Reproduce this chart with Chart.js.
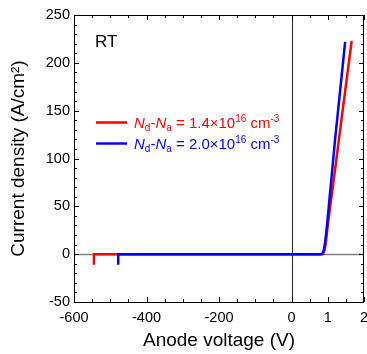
<!DOCTYPE html>
<html>
<head>
<meta charset="utf-8">
<script src="https://cdn.jsdelivr.net/npm/chart.js@4.4.0/dist/chart.umd.min.js"></script>
<style>
  html, body { margin: 0; padding: 0; background: #fff; }
  canvas { display: block; }
</style>
</head>
<body>
<canvas id="ivChart" width="367" height="354"></canvas>
<script>
// Datos (voltaje en V, densidad de corriente en A/cm2)
const redV = [-545, -545, -300, 0, 0.5, 0.82, 0.87, 0.91, 0.95, 1.0, 1.2, 1.4, 1.66];
const redJ = [-11, 0, 0, 0, 0, 0, 0.5, 4, 13, 30, 88, 147, 223];
const blueV = [-478, -478, -300, 0, 0.5, 0.80, 0.85, 0.89, 0.93, 0.98, 1.2, 1.48];
const blueJ = [-11, 0, 0, 0, 0, 0, 0.5, 4, 13, 30, 119, 222];

const xTickLabels = ["-600", "-400", "-200", "0", "1", "2"];
const xTickValues = [-600, -400, -200, 0, 1, 2];
const yTickLabels = ["-50", "0", "50", "100", "150", "200", "250"];

const FONT = "'Liberation Sans', Arial, sans-serif";

// eje partido: lado negativo 100 V por unidad, lado positivo 1 V por unidad
const toAxis = v => (v < 0 ? v / 100 : v);
const toPoints = (xs, ys) => xs.map((v, i) => ({ x: toAxis(v), y: ys[i] }));

const axisTicks = {
	id: "axisTicks",
	beforeDatasetsDraw(chart) {
		const { ctx, chartArea: a, scales } = chart;
		const xs = scales.x, ys = scales.y;
		ctx.save();
		// lineas de cero
		ctx.lineWidth = 1.5;
		ctx.strokeStyle = "#808080";
		const y0 = Math.round(ys.getPixelForValue(0)) + 0.5;
		ctx.beginPath(); ctx.moveTo(a.left, y0); ctx.lineTo(a.right, y0); ctx.stroke();
		ctx.lineWidth = 1;
		ctx.strokeStyle = "#222";
		const x0 = Math.round(xs.getPixelForValue(0)) + 0.5;
		ctx.beginPath(); ctx.moveTo(x0, a.top); ctx.lineTo(x0, a.bottom); ctx.stroke();
		ctx.restore();
	},
	afterDraw(chart) {
		const { ctx, chartArea: a, scales } = chart;
		const xs = scales.x, ys = scales.y;
		ctx.save();
		ctx.strokeStyle = "#000";
		ctx.lineWidth = 1;
		ctx.strokeRect(a.left + 0.5, a.top + 0.5, a.right - a.left - 1, a.bottom - a.top);
		ctx.beginPath();
		const majorX = xTickValues.map(toAxis);
		for (let u = -6; u <= 2.001; u += 0.5) {
			const px = Math.round(xs.getPixelForValue(u)) + 0.5;
			const len = majorX.some(m => Math.abs(m - u) < 1e-6) ? 5 : 3;
			ctx.moveTo(px, a.bottom); ctx.lineTo(px, a.bottom - len);
			ctx.moveTo(px, a.top); ctx.lineTo(px, a.top + len);
		}
		for (let v = -50; v <= 250; v += 10) {
			const py = Math.round(ys.getPixelForValue(v)) + 0.5;
			const len = v % 50 === 0 ? 5 : 3;
			ctx.moveTo(a.left, py); ctx.lineTo(a.left + len, py);
			ctx.moveTo(a.right, py); ctx.lineTo(a.right - len, py);
		}
		ctx.stroke();

		// RT
		ctx.fillStyle = "#000";
		ctx.font = "17px " + FONT;
		ctx.textBaseline = "alphabetic";
		ctx.fillText("RT", 95, 47);

		// leyenda
		const entries = [
			{ color: "#ff0000", value: "1.4", y: 122.5 },
			{ color: "#0000ff", value: "2.0", y: 143.5 }
		];
		entries.forEach(e => {
			ctx.strokeStyle = e.color;
			ctx.lineWidth = 2.5;
			ctx.beginPath(); ctx.moveTo(96, e.y); ctx.lineTo(127, e.y); ctx.stroke();
			ctx.fillStyle = e.color;
			let x = 134;
			const base = e.y + 5.5;
			const part = (text, style, dy) => {
				ctx.font = style;
				ctx.fillText(text, x, base + dy);
				x += ctx.measureText(text).width;
			};
			const main = "15px " + FONT, ital = "italic 15px " + FONT, small = "10px " + FONT;
			part("N", ital, 0);
			part("d", small, 3);
			part("-", main, 0);
			part("N", ital, 0);
			part("a", small, 3);
			part(" = " + e.value + "\u00d710", main, 0);
			part("16", small, -6);
			part(" cm", main, 0);
			part("-3", small, -6);
		});
		ctx.restore();
	}
};

new Chart(document.getElementById("ivChart"), {
	type: "line",
	data: {
		datasets: [
			{
				label: "2.0e16",
				data: toPoints(blueV, blueJ),
				borderColor: "#0000ff",
				borderWidth: 2.5,
				pointRadius: 0,
				order: 0
			},
			{
				label: "1.4e16",
				data: toPoints(redV, redJ),
				borderColor: "#ff0000",
				borderWidth: 2.5,
				pointRadius: 0,
				order: 1
			}
		]
	},
	options: {
		responsive: false,
		animation: false,
		devicePixelRatio: 1,
		layout: { padding: { top: 15, right: 3, left: 0, bottom: 0 } },
		plugins: { legend: { display: false }, tooltip: { enabled: false } },
		scales: {
			x: {
				type: "linear",
				min: -6,
				max: 2,
				afterFit: s => { s.height = 52; s.paddingRight = 0; s.paddingLeft = 0; },
				grid: { display: false, drawTicks: false },
				border: { display: false },
				ticks: {
					stepSize: 0.5,
					autoSkip: false,
					maxRotation: 0,
					padding: 7,
					color: "#000",
					font: { family: FONT, size: 14.5 },
					callback: u => {
						const i = xTickValues.findIndex(v => Math.abs(toAxis(v) - u) < 1e-6);
						return i >= 0 ? xTickLabels[i] : "";
					}
				},
				title: {
					display: true,
					text: "Anode voltage (V)",
					color: "#000",
					font: { family: FONT, size: 19 },
					padding: { top: 2, bottom: 2 }
				}
			},
			y: {
				min: -50,
				max: 250,
				afterFit: s => { s.width = 74; s.paddingTop = 0; s.paddingBottom = 0; },
				grid: { display: false, drawTicks: false },
				border: { display: false },
				ticks: {
					stepSize: 50,
					padding: 4,
					color: "#000",
					font: { family: FONT, size: 14.5 },
					callback: (v, i) => yTickLabels[i]
				},
				title: {
					display: true,
					text: "Current density (A/cm\u00b2)",
					color: "#000",
					font: { family: FONT, size: 19 },
					padding: { top: 7, bottom: 7 }
				}
			}
		}
	},
	plugins: [axisTicks]
});
</script>
</body>
</html>
